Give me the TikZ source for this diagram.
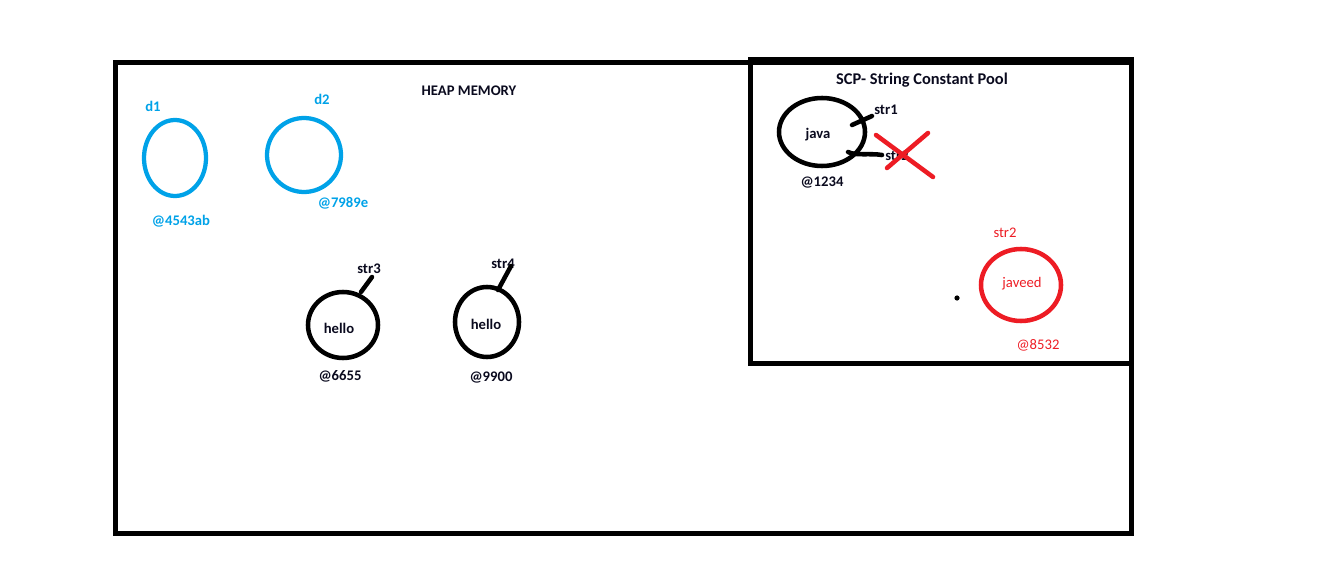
\documentclass[tikz,border=0pt]{standalone}
\usepackage{fontspec}
\setmainfont{Carlito}
\definecolor{pblue}{RGB}{0,162,232}
\definecolor{pred}{RGB}{237,28,36}
\definecolor{ptext}{RGB}{10,10,30}
\begin{document}
\begin{tikzpicture}[x=0.75pt,y=-0.75pt,
  lbl/.style={font=\fontsize{11}{13}\selectfont\bfseries,text=ptext,inner sep=0pt},
  rlbl/.style={font=\fontsize{11}{13}\selectfont,text=pred,inner sep=0pt},
  blbl/.style={font=\fontsize{11}{13}\selectfont\bfseries,text=pblue,inner sep=0pt},
  frame/.style={draw=black,line width=3.75pt},
  bcirc/.style={draw=pblue,line width=3.2pt},
  kcirc/.style={draw=black,line width=3.4pt},
  rcirc/.style={draw=pred,line width=3.4pt},
  ptr/.style={draw=black,line width=3.4pt,line cap=round},
  cross/.style={draw=pred,line width=3.4pt,line cap=round}]
\useasboundingbox (0,0) rectangle (1330,574);
% heap frame
\draw[frame] (115,63) rectangle (1131,533);
% SCP frame
\draw[frame] (750,60) rectangle (1131,363);
\draw[black,line width=1.5pt] (750,58.5) -- (1133,58.5);
% titles
\node[lbl] (heap) at (469,91) {HEAP MEMORY};
\node[lbl,font=\fontsize{12.3}{14}\selectfont\bfseries] (scp) at (922,80) {SCP- String Constant Pool};
% d1, d2
\draw[bcirc] (175,158) ellipse [x radius=31,y radius=38];
\draw[bcirc] (304,155) ellipse [x radius=37,y radius=37];
\node[blbl] (d1) at (153,106) {d1};
\node[blbl] (d2) at (322,99) {d2};
\node[blbl] (a1) at (181,221) {@4543ab};
\node[blbl] (a2) at (343,203) {@7989e};
% hello objects
\draw[kcirc] (343,325) ellipse [x radius=35,y radius=33];
\draw[kcirc] (487,322) ellipse [x radius=32,y radius=35];
\node[lbl] (h1) at (339,328) {hello};
\node[lbl] (h2) at (486,324) {hello};
\node[lbl] (s3) at (369,269) {str3};
\node[lbl] (s4) at (503,264) {str4};
\coordinate (s3a) at (372,277);
\coordinate (s3b) at (361,292);
\coordinate (s4a) at (511,266);
\coordinate (s4b) at (498,290);
\draw[ptr] (s3a) -- (s3b);
\draw[ptr] (s4a) -- (s4b);
\node[lbl] (a3) at (340,376) {@6655};
\node[lbl] (a4) at (491,378) {@9900};
% java
\draw[kcirc] (822,132) ellipse [x radius=43,y radius=34];
\node[lbl] (java) at (818,135) {java};
\node[lbl] (s1) at (886,110) {str1};
\coordinate (s1a) at (852,125);
\coordinate (s1b) at (872,116);
\draw[ptr] (s1a) -- (s1b);
\node[lbl] (s2) at (897,156) {str2};
\coordinate (s2a) at (848,152);
\coordinate (s2b) at (882,155);
\draw[ptr] (s2a) .. controls (856,156) and (870,153) .. (s2b);
\node[lbl] (a5) at (822,183) {@1234};
% red cross
\coordinate (x1a) at (876,135);
\coordinate (x1b) at (933,177);
\coordinate (x2a) at (928,133);
\coordinate (x2b) at (887,168);
\draw[cross] (x1a) -- (x1b);
\draw[cross] (x2a) -- (x2b);
% javeed
\draw[rcirc] (1021,285) ellipse [x radius=40,y radius=36];
\node[rlbl] (jv) at (1022,284) {javeed};
\node[rlbl] (s2r) at (1005,233) {str2};
\node[rlbl] (a6) at (1038,345) {@8532};
\fill[black] (957,298) circle [radius=2.6];
\end{tikzpicture}
\end{document}
